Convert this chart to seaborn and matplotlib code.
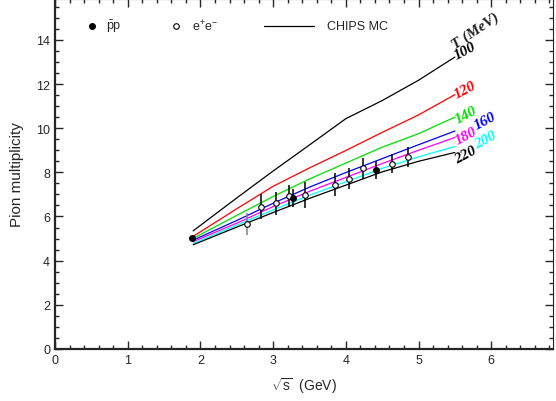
import matplotlib
matplotlib.use("Agg")
import matplotlib.pyplot as plt
from matplotlib.ticker import MultipleLocator
import numpy as np
import pandas as pd
import seaborn as sns

# CHIPS MC curves, one per temperature T (MeV)
energy = [1.9, 2.5, 3.0, 3.5, 4.0, 4.5, 5.0, 5.5]
mult_t100 = [5.35, 6.84, 8.06, 9.24, 10.43, 11.25, 12.17, 13.22]
mult_t120 = [5.10, 6.35, 7.37, 8.20, 8.99, 9.81, 10.60, 11.52]
mult_t140 = [5.01, 6.05, 6.91, 7.70, 8.42, 9.14, 9.75, 10.50]
mult_t160 = [4.93, 5.82, 6.60, 7.33, 7.99, 8.62, 9.25, 9.87]
mult_t180 = [4.86, 5.70, 6.45, 7.14, 7.77, 8.40, 9.00, 9.58]
mult_t200 = [4.78, 5.61, 6.30, 6.96, 7.57, 8.18, 8.70, 9.17]
mult_t220 = [4.72, 5.52, 6.18, 6.82, 7.42, 8.02, 8.50, 8.90]
temps = ["100", "120", "140", "160", "180", "200", "220"]
curve_colors = ["black", "red", "#00e000", "blue", "magenta", "cyan", "black"]

# measured points
pp_x = [1.88, 3.28, 4.42]
pp_y = [5.01, 6.83, 8.11]
pp_err = [0.10, 0.42, 0.42]
ee_x = [2.64, 2.84, 3.04, 3.22, 3.44, 3.85, 4.05, 4.24, 4.64, 4.85]
ee_y = [5.66, 6.45, 6.60, 6.94, 6.97, 7.44, 7.72, 8.19, 8.40, 8.70]
ee_err = [0.50, 0.56, 0.53, 0.50, 0.60, 0.53, 0.47, 0.47, 0.45, 0.45]

curves = [mult_t100, mult_t120, mult_t140, mult_t160, mult_t180, mult_t200, mult_t220]
df = pd.concat([pd.DataFrame({"E": energy, "N": c, "T": t}) for c, t in zip(curves, temps)])

sns.set_style("ticks")
plt.rcParams["font.family"] = ["Liberation Sans", "DejaVu Sans"]
plt.rcParams["mathtext.fontset"] = "custom"
plt.rcParams["mathtext.rm"] = "Liberation Sans"
plt.rcParams["mathtext.it"] = "Liberation Sans:italic"

fig = plt.figure(figsize=(5.56, 4.02), dpi=100)
ax = fig.add_axes([0.099, 0.1294, 0.8956, 0.8706])

sns.lineplot(data=df, x="E", y="N", hue="T", palette=dict(zip(temps, curve_colors)),
             linewidth=0.9, legend=False, ax=ax, estimator=None)

# data with error bars
eb = ax.errorbar(ee_x, ee_y, yerr=ee_err, fmt="o", ms=4, mfc="white", mec="black",
                 mew=0.8, ecolor="black", elinewidth=1.1, capsize=0, zorder=5)
eb[2][0].set_color(["#808080"] + ["black"] * (len(ee_x) - 1))
ax.errorbar(pp_x, pp_y, yerr=pp_err, fmt="o", ms=4, mfc="black", mec="black",
            ecolor="black", elinewidth=1.1, capsize=0, zorder=5)

# temperature labels
serif = dict(family=["Liberation Serif", "DejaVu Serif"], weight="bold", style="italic",
             fontsize=11, rotation=28, rotation_mode="anchor", ha="center", va="center")
label_pos = [(5.64, 13.53), (5.64, 11.76), (5.65, 10.63), (5.91, 10.33),
             (5.65, 9.65), (5.92, 9.5), (5.65, 8.82)]
for t, c, (lx, ly) in zip(temps, curve_colors, label_pos):
    ax.text(lx, ly, t, color=c, **serif)
ax.text(5.79, 14.43, "T (MeV)", color="#202020", **{**serif, "rotation": 34})

# key along the top
ax.plot([0.51], [14.63], "o", ms=4, color="black")
ax.text(0.70, 14.63, r"$\bar{\mathrm{p}}$p", va="center", fontsize=9)
ax.plot([1.67], [14.63], "o", ms=4, mfc="white", mec="black", mew=0.8)
ax.text(1.88, 14.63, r"e$^{+}$e$^{-}$", va="center", fontsize=9)
ax.plot([2.88, 3.56], [14.63, 14.63], color="black", lw=0.9)
ax.text(3.74, 14.63, "CHIPS MC", va="center", fontsize=9)

ax.set_xlim(0, 6.85)
ax.set_ylim(0, 15.85)
ax.xaxis.set_major_locator(MultipleLocator(1))
ax.xaxis.set_minor_locator(MultipleLocator(0.2))
ax.yaxis.set_major_locator(MultipleLocator(2))
ax.yaxis.set_minor_locator(MultipleLocator(0.5))
ax.tick_params(which="both", direction="in", top=True, right=True, labelsize=9, width=1)
ax.tick_params(which="major", length=6)
ax.tick_params(which="minor", length=3)
for s in ["left", "bottom"]:
    ax.spines[s].set_linewidth(1.6)
for s in ["top", "right"]:
    ax.spines[s].set_linewidth(0.8)

ax.set_xlabel(r"$\sqrt{\mathrm{s}}$  (GeV)", fontsize=10, labelpad=7)
ax.set_ylabel("Pion multiplicity", fontsize=11, labelpad=9)

fig.savefig("out.png", dpi=100)
